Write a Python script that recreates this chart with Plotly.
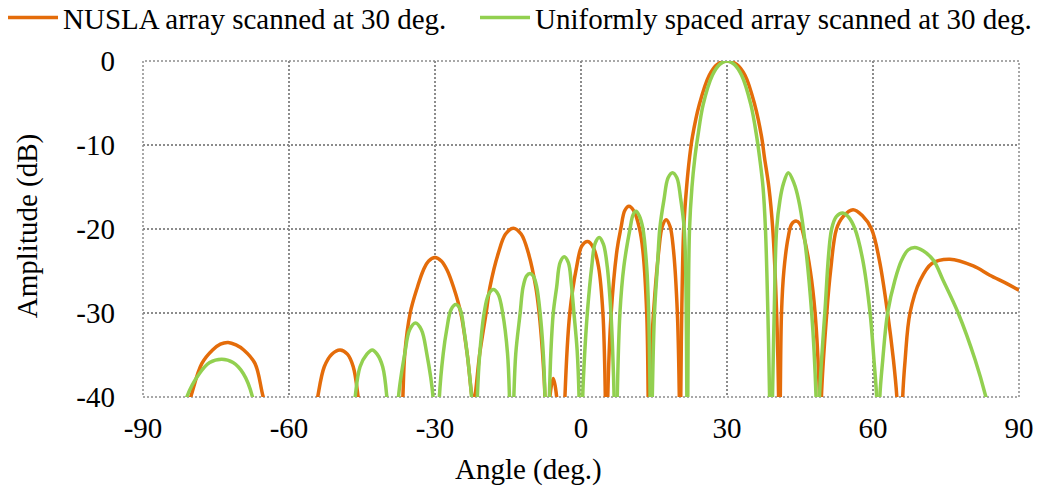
import plotly.graph_objects as go

# Array factor of the non-uniformly spaced linear array (NUSLA), steered to 30 deg.
# Each lobe is listed down to just below the -40 dB floor; None separates lobes.
nusla_angle = [
    -82.0, -80.2, -77.9, -75.7, -74.1, -72.5, -70.9, -69.3, -67.0, -65.3, -63.5, None,
    -55.0, -54.1, -52.75, -51.2, -49.5, -48.0, -46.8, -45.8, -45.2, None,
    -37.0, -36.6, -36.2, -35.1, -33.6, -32.4, -31.3, -30.0, -28.7, -27.5, -26.2, -24.7, -23.4, -22.1,
    -20.8, -19.5, -18.7, -17.0, -15.5, -13.9, -12.3, -10.8, -9.3, -8.6, -7.9, -7.4, -7.2, None,
    -6.6, -6.4, -5.7, -5.0, -4.8, None,
    -3.5, -3.3, -2.3, -0.9, 0.2, 1.4, 2.6, 3.6, 4.5, 5.0, 5.1, None,
    5.4, 5.5, 6.2, 7.4, 8.2, 9.0, 9.85, 10.9, 12.0, 12.7, 13.5, 13.8, 13.9, None,
    13.95, 14.0, 14.9, 16.0, 16.7, 17.5, 18.3, 19.0, 19.8, 20.2, 20.3, None,
    20.4, 20.5, 20.7, 21.1, 21.7, 22.3, 22.9, 24.3, 26.35, 28.0, 30.0, 32.0, 33.7, 35.7,
    37.1, 37.7, 38.6, 39.4, 40.2, 40.6, 40.7, None,
    40.85, 40.95, 41.2, 41.7, 42.6, 43.3, 44.2, 45.0, 45.8, 47.1, 48.1, 49.0, 49.15, None,
    49.3, 49.4, 50.5, 51.3, 52.5, 53.9, 55.9, 57.8, 59.7, 61.3, 63.0, 64.2, 64.9, 65.2, None,
    65.9, 66.1, 66.6, 67.6, 69.7, 72.1, 75.8, 80.6, 84.0, 87.5, 90.0,
]
nusla_db = [
    -43.5, -40, -36.0, -34.4, -33.7, -33.5, -33.8, -34.4, -36.0, -40, -43.5, None,
    -43.5, -40, -36.4, -34.9, -34.4, -34.9, -36.4, -40, -43.5, None,
    -46, -40, -34.8, -30.0, -26.9, -24.9, -23.8, -23.4, -23.8, -24.9, -26.9, -30.0, -34.8, -40.5,
    -34.8, -30.0, -26.9, -22.9, -20.6, -19.9, -20.6, -22.9, -26.9, -30.0, -34.8, -40, -46, None,
    -44, -40, -37.8, -40, -44, None,
    -46, -40, -30.0, -24.5, -22.0, -21.5, -22.3, -24.5, -30.0, -40, -46, None,
    -46, -40, -30.0, -22.5, -19.9, -17.8, -17.3, -17.9, -19.9, -22.5, -30.0, -40, -46, None,
    -46, -40, -30.0, -22.5, -19.7, -18.9, -19.7, -22.5, -30.0, -40, -46, None,
    -46, -40, -30, -20, -15, -11.5, -9, -5.2, -1.7, -0.4, 0, -0.4, -1.7, -5.2,
    -9, -11.5, -15, -20, -30, -40, -46, None,
    -46, -40, -30, -24.9, -20.9, -19.4, -19.05, -19.4, -20.9, -24.9, -30, -40, -46, None,
    -46, -40, -30, -24.9, -20, -18.5, -17.7, -18.4, -20, -23.7, -30, -35.6, -40, -44, None,
    -46, -40, -35.6, -30, -26.1, -24.1, -23.6, -24.4, -25.5, -26.5, -27.3,
]

# Array factor of the uniformly spaced array, steered to 30 deg.
uniform_angle = [
    -82.0, -81.0, -78.4, -76.3, -73.8, -71.5, -69.4, -67.5, -66.8, None,
    -46.8, -46.4, -45.4, -44.0, -42.9, -41.9, -40.75, -39.9, -39.6, None,
    -37.7, -37.5, -36.2, -35.2, -34.0, -32.8, -31.7, -30.4, -30.2, None,
    -29.3, -29.1, -28.3, -27.6, -26.7, -25.7, -24.8, -24.05, -23.4, -22.5, -22.3, None,
    -21.5, -21.3, -20.8, -19.9, -19.0, -18.0, -17.0, -16.1, -15.1, -14.7, -14.55, None,
    -14.0, -13.8, -13.4, -12.5, -11.9, -11.2, -10.5, -9.8, -9.1, -8.4, -7.75, -7.4, -7.25, None,
    -6.7, -6.5, -6.2, -5.7, -5.0, -4.3, -3.45, -2.6, -2.0, -1.45, -0.8, -0.4, -0.3, None,
    0.25, 0.35, 0.8, 1.3, 2.2, 2.9, 3.75, 4.6, 5.4, 6.15, 6.5, 6.8, 6.9, None,
    7.35, 7.45, 8.0, 8.8, 10.1, 10.7, 11.3, 11.95, 12.7, 13.5, 13.9, 14.2, 14.3, None,
    14.55, 14.65, 15.1, 15.7, 16.2, 17.05, 17.9, 18.8, 19.7, 20.5, 21.2, 21.5, 21.75, 21.8, None,
    21.9, 21.95, 22.05, 22.3, 22.8, 23.4, 24.0, 25.1, 27.0, 28.5, 30.0, 31.5, 33.0, 34.9,
    36.1, 36.7, 37.4, 37.9, 38.4, 38.75, 38.85, None,
    39.25, 39.35, 39.7, 40.2, 40.9, 41.6, 42.6, 43.8, 44.7, 45.7, 47.4, 48.3, 48.45, None,
    48.85, 49.0, 50.1, 51.5, 52.5, 53.8, 55.0, 56.3, 57.9, 59.4, 60.2, 60.75, 60.9, None,
    61.25, 61.4, 62.0, 63.0, 64.5, 65.9, 67.2, 68.6, 70.3, 72.4, 74.4, 77.5, 81.0, 83.2, 84.0,
]
uniform_db = [
    -43, -40, -37.2, -35.9, -35.5, -35.9, -37.2, -40, -43, None,
    -44, -40, -36.4, -34.9, -34.4, -34.9, -36.4, -40, -44, None,
    -45, -40, -34.8, -32.0, -31.2, -32.0, -34.8, -40, -45, None,
    -45, -40, -34.8, -32.0, -29.6, -29.0, -29.6, -32.0, -34.8, -40, -45, None,
    -45, -40, -34.8, -30.0, -27.8, -27.2, -27.8, -30.0, -34.8, -40, -45, None,
    -45, -40, -34.8, -30.0, -26.9, -25.6, -25.3, -25.6, -26.9, -30.0, -34.8, -40, -45, None,
    -45, -40, -34.8, -30.0, -26.9, -24.0, -23.3, -24.0, -26.5, -30.0, -34.4, -40, -45, None,
    -45, -40, -34.4, -30.0, -24.5, -21.7, -21.0, -21.8, -24.5, -30.0, -34.4, -40, -45, None,
    -45, -40, -30.0, -24.5, -19.9, -18.3, -17.9, -18.4, -19.9, -24.5, -30.0, -40, -45, None,
    -45, -40, -30.0, -24.5, -19.9, -16.5, -13.9, -13.3, -13.9, -16.5, -19.9, -24.5, -40, -45, None,
    -45, -40, -30, -20, -15, -11.5, -9, -5.2, -1.7, -0.4, 0, -0.4, -1.7, -5.2,
    -9, -11.5, -15, -20, -30, -40, -45, None,
    -45, -40, -30, -20, -16.5, -14.6, -13.3, -14.6, -16.5, -20, -30, -40, -45, None,
    -45, -40, -30, -20, -18.5, -18.1, -18.6, -20, -23.7, -30, -35.6, -40, -45, None,
    -45, -40, -35.6, -30, -26.1, -23.7, -22.5, -22.2, -22.6, -23.7, -26.1, -30, -35.6, -40, -42,
]

x_ticks = [-90, -60, -30, 0, 30, 60, 90]
x_labels = ["-90", "-60", "-30", "0", "30", "60", "90"]
y_ticks = [-40, -30, -20, -10, 0]
y_labels = ["-40", "-30", "-20", "-10", "0"]

series_names = ["NUSLA array scanned at 30 deg.",
                "Uniformly spaced array scanned at 30 deg."]
series_colors = ["#E46C0A", "#92D050"]

FONT = "Times New Roman, Liberation Serif, serif"
GRID_COLOR = "#8c8c8c"
GRID_DASH = "2px,2px"

fig = go.Figure()
fig.add_trace(go.Scatter(
    x=nusla_angle, y=nusla_db, mode="lines", name=series_names[0],
    line=dict(color=series_colors[0], width=3.5, shape="spline", smoothing=1.0),
    connectgaps=False, legend="legend",
))
fig.add_trace(go.Scatter(
    x=uniform_angle, y=uniform_db, mode="lines", name=series_names[1],
    line=dict(color=series_colors[1], width=3.5, shape="spline", smoothing=1.0),
    connectgaps=False, legend="legend2",
))

axis_style = dict(showgrid=True, gridcolor=GRID_COLOR, gridwidth=1.5, griddash=GRID_DASH,
                  zeroline=False, showline=False, ticks="",
                  tickfont=dict(family=FONT, size=29, color="black"))

fig.update_xaxes(range=[-90, 90], tickvals=x_ticks, ticktext=x_labels,
                 ticklabelstandoff=11, **axis_style)
fig.update_yaxes(range=[-40, 0], tickvals=y_ticks, ticktext=y_labels,
                 ticklabelstandoff=27, **axis_style)

# dotted frame around the plotting area
fig.add_shape(type="rect", xref="paper", yref="paper", x0=0, y0=0, x1=1, y1=1,
              line=dict(color=GRID_COLOR, width=1.5, dash=GRID_DASH), layer="below")

fig.add_annotation(text="Angle (deg.)", xref="paper", yref="paper",
                   x=0.4406, y=-0.217, xanchor="center", yanchor="middle",
                   showarrow=False, font=dict(family=FONT, size=29, color="black"))
fig.add_annotation(text="Amplitude (dB)", xref="paper", yref="paper",
                   x=-0.131, y=0.509, xanchor="center", yanchor="middle",
                   textangle=-90, showarrow=False,
                   font=dict(family=FONT, size=29, color="black"))

legend_style = dict(orientation="h", xref="paper", yref="paper",
                    xanchor="left", yanchor="top",
                    font=dict(family=FONT, size=29, color="black"),
                    bgcolor="rgba(0,0,0,0)", itemwidth=50)

fig.update_layout(
    width=1040, height=490,
    margin=dict(l=143, r=21, t=61, b=93, autoexpand=False),
    paper_bgcolor="white", plot_bgcolor="white",
    showlegend=True,
    legend=dict(x=-0.1598, y=1.205, **legend_style),
    legend2=dict(x=0.379, y=1.205, **legend_style),
)

fig.write_html("out.html")
